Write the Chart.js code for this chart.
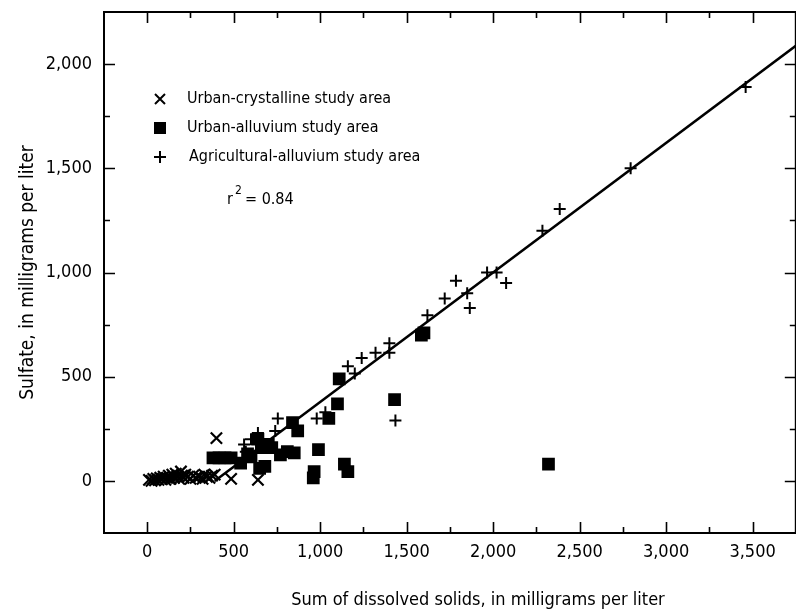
<!DOCTYPE html>
<html>
<head>
<meta charset="utf-8">
<script src="https://cdn.jsdelivr.net/npm/chart.js@4.4.0/dist/chart.umd.min.js"></script>
<style>
  html, body { margin: 0; padding: 0; background: #fff; overflow: hidden; }
  #wrap { width: 796px; height: 612px; position: relative; overflow: hidden; }
  #chart { position: absolute; left: 0; top: 0; }
</style>
</head>
<body>
<div id="wrap"><canvas id="chart" width="806" height="612"></canvas></div>
<script>
// Urban-crystalline study area (x)
const crystallineX = [10, 25, 35, 45, 55, 65, 75, 85, 95, 105, 115, 125, 135, 145, 155, 165, 175, 185, 195, 200, 210, 220, 235, 250, 265, 280, 300, 320, 330, 345, 360, 375, 390, 400, 485, 640];
const crystallineY = [5, 0, 10, 3, 12, 5, 15, 8, 20, 5, 15, 25, 10, 30, 15, 35, 20, 10, 45, 25, 15, 30, 20, 10, 25, 15, 20, 10, 30, 20, 15, 25, 30, 205, 10, 5];

// Urban-alluvium study area (squares)
const alluviumX = [380, 415, 450, 485, 540, 580, 600, 640, 650, 660, 680, 700, 720, 770, 810, 850, 840, 870, 960, 965, 990, 1050, 1100, 1110, 1140, 1160, 1430, 1585, 1600, 2320];
const alluviumY = [110, 110, 110, 110, 85, 130, 115, 200, 60, 160, 70, 175, 160, 125, 140, 135, 280, 240, 15, 45, 150, 300, 370, 490, 80, 45, 390, 700, 710, 80];

// Agricultural-alluvium study area (+)
const agriX = [560, 570, 600, 640, 740, 755, 980, 1030, 1160, 1200, 1240, 1320, 1400, 1400, 1435, 1620, 1720, 1785, 1850, 1865, 1965, 2020, 2075, 2285, 2385, 2795, 3460];
const agriY = [175, 140, 200, 230, 240, 300, 300, 330, 550, 515, 590, 615, 660, 615, 290, 795, 875, 960, 900, 830, 1000, 1000, 950, 1200, 1305, 1500, 1890];

// regression line ends
const lineX = [390, 3750];
const lineY = [0, 2088];

const xTickLabels = [0, 500, 1000, 1500, 2000, 2500, 3000, 3500];
const yTickLabels = [0, 500, 1000, 1500, 2000];

const legendLabels = ["Urban-crystalline study area", "Urban-alluvium study area", "Agricultural-alluvium study area"];
const xTitle = "Sum of dissolved solids, in milligrams per liter";
const yTitle = "Sulfate, in milligrams per liter";
const r2Text = "0.84";

const FONT = "'Liberation Sans Narrow', 'DejaVu Sans Condensed', 'Arial Narrow', sans-serif";

function pts(xs, ys) {
  return xs.map((x, i) => ({ x: x, y: ys[i] }));
}

function fmt(v) {
  return v.toLocaleString('en-US');
}

function noPad(s) {
  s.paddingTop = 0; s.paddingBottom = 0; s.paddingLeft = 0; s.paddingRight = 0;
}

// frame with inward ticks on all four sides, legend, x title
const framePlugin = {
  id: 'frame',
  afterDraw(chart) {
    const ctx = chart.ctx;
    const a = chart.chartArea;
    const xs = chart.scales.x, ys = chart.scales.y;
    ctx.save();
    ctx.strokeStyle = '#000';
    ctx.lineWidth = 2;
    ctx.strokeRect(a.left, a.top, a.right - a.left, a.bottom - a.top);
    ctx.lineWidth = 1.6;
    ctx.beginPath();
    xs.ticks.forEach(t => {
      if (t.value <= xs.min || t.value >= xs.max) return;
      const len = t.value % 500 === 0 ? 11 : 6;
      const px = Math.round(xs.getPixelForValue(t.value)) + 0.5;
      ctx.moveTo(px, a.bottom); ctx.lineTo(px, a.bottom - len);
      ctx.moveTo(px, a.top); ctx.lineTo(px, a.top + len);
    });
    ys.ticks.forEach(t => {
      if (t.value <= ys.min || t.value >= ys.max) return;
      const len = t.value % 500 === 0 ? 11 : 6;
      const py = Math.round(ys.getPixelForValue(t.value)) + 0.5;
      ctx.moveTo(a.left, py); ctx.lineTo(a.left + len, py);
      ctx.moveTo(a.right, py); ctx.lineTo(a.right - len, py);
    });
    ctx.stroke();

    // legend
    const mx = 160, tx = 187, rows = [99, 128, 157];
    ctx.lineWidth = 2;
    ctx.beginPath();
    ctx.moveTo(mx - 5, rows[0] - 5); ctx.lineTo(mx + 5, rows[0] + 5);
    ctx.moveTo(mx + 5, rows[0] - 5); ctx.lineTo(mx - 5, rows[0] + 5);
    ctx.moveTo(mx - 6, rows[2]); ctx.lineTo(mx + 6, rows[2]);
    ctx.moveTo(mx, rows[2] - 6); ctx.lineTo(mx, rows[2] + 6);
    ctx.stroke();
    ctx.fillStyle = '#000';
    ctx.fillRect(mx - 6, rows[1] - 6, 12, 12);

    ctx.font = '16px ' + FONT;
    ctx.textBaseline = 'middle';
    ctx.textAlign = 'left';
    ctx.fillText(legendLabels[0], tx, rows[0]);
    ctx.fillText(legendLabels[1], tx, rows[1]);
    ctx.fillText(legendLabels[2], tx + 2, rows[2]);

    ctx.fillText('r', 227, 200);
    ctx.font = '12px ' + FONT;
    ctx.fillText('2', 235, 191);
    ctx.font = '16px ' + FONT;
    ctx.fillText('= ' + r2Text, 245, 200);

    // x axis title
    ctx.font = '18px ' + FONT;
    ctx.textAlign = 'center';
    ctx.fillText(xTitle, 478, 600);
    ctx.restore();
  }
};

const ctx = document.getElementById('chart').getContext('2d');
window.myChart = new Chart(ctx, {
  type: 'scatter',
  data: {
    datasets: [
      {
        type: 'line',
        label: 'fit',
        data: pts(lineX, lineY),
        borderColor: '#000',
        borderWidth: 2.5,
        pointRadius: 0,
        fill: false
      },
      {
        label: legendLabels[0],
        data: pts(crystallineX, crystallineY),
        pointStyle: 'crossRot',
        pointRadius: 8,
        borderColor: '#000',
        borderWidth: 2.2,
        backgroundColor: '#000'
      },
      {
        label: legendLabels[1],
        data: pts(alluviumX, alluviumY),
        pointStyle: 'rect',
        pointRadius: 9,
        borderColor: '#000',
        borderWidth: 0,
        backgroundColor: '#000'
      },
      {
        label: legendLabels[2],
        data: pts(agriX, agriY),
        pointStyle: 'cross',
        pointRadius: 6,
        borderColor: '#000',
        borderWidth: 2,
        backgroundColor: '#000'
      }
    ]
  },
  options: {
    responsive: false,
    animation: false,
    events: [],
    layout: { padding: { top: 12, right: 0, bottom: 0, left: 0 } },
    plugins: {
      legend: { display: false },
      tooltip: { enabled: false }
    },
    scales: {
      x: {
        type: 'linear',
        min: -250,
        max: 3750,
        grid: { display: false, drawTicks: false },
        border: { display: false },
        ticks: {
          stepSize: 250,
          autoSkip: false,
          maxRotation: 0,
          padding: 9,
          color: '#000',
          font: { family: FONT, size: 18 },
          callback: v => xTickLabels.includes(v) ? fmt(v) : ''
        },
        afterFit: s => { s.height = 79; noPad(s); }
      },
      y: {
        type: 'linear',
        min: -250,
        max: 2250,
        grid: { display: false, drawTicks: false },
        border: { display: false },
        ticks: {
          stepSize: 250,
          autoSkip: false,
          padding: 12,
          color: '#000',
          font: { family: FONT, size: 18 },
          callback: v => yTickLabels.includes(v) ? fmt(v) : ''
        },
        title: {
          display: true,
          text: yTitle,
          color: '#000',
          font: { family: FONT, size: 19 },
          padding: { top: 17, bottom: 0 }
        },
        afterFit: s => { s.width = 104; noPad(s); }
      }
    }
  },
  plugins: [framePlugin]
});
</script>
</body>
</html>
